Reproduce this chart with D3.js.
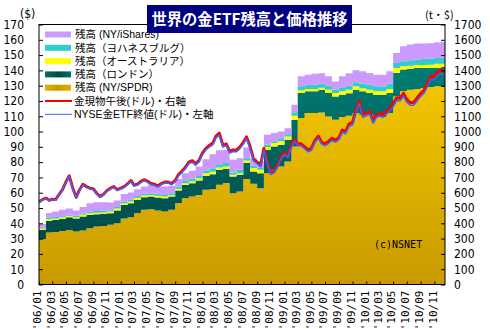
<!DOCTYPE html>
<html lang="ja">
<head>
<meta charset="utf-8">
<script src="https://cdn.jsdelivr.net/npm/d3@7"></script>
<style>
  body { margin: 0; background: #fff; }
  svg { display: block; }
</style>
</head>
<body>
<div id="chart"></div>
<script>
/********** Data **********/
// monthly ETF holdings, tonnes, Jan 2006 .. Dec 2010
var spdr = [296,340,344,350,357,346,353,368,379,383,390,401,
            431,440,466,488,492,484,477,488,532,564,575,586,
            619,623,652,663,597,608,690,658,630,728,750,772,
            804,903,1088,1121,1121,1125,1099,1077,1095,1103,1121,1110,
            1110,1099,1095,1121,1230,1263,1274,1278,1285,1291,1296,1291]
var london = [61,76,79,79,83,85,92,87,81,79,76,83,
              89,92,87,83,83,85,87,87,83,87,87,94,
              92,98,98,92,109,109,105,81,98,153,153,142,
              142,175,164,142,142,148,153,153,146,148,153,153,
              142,142,146,131,153,142,135,137,131,124,120,131]
var australia = [7,11,9,9,9,9,11,11,9,9,11,13,
                 11,11,15,11,11,11,11,9,11,11,13,15,
                 17,17,15,17,11,11,15,22,22,18,22,22,
                 22,26,18,15,15,13,22,22,22,22,22,20,
                 22,22,22,26,33,22,22,20,20,22,28,22]
var johannesburg = [4,9,9,9,7,9,9,11,11,11,9,9,
                    11,11,11,11,11,13,11,13,15,15,17,15,
                    17,22,22,22,15,22,15,15,11,15,11,15,
                    15,22,26,28,28,26,26,22,26,26,26,31,
                    33,33,33,35,33,33,35,35,39,41,37,39]
var ishares = [28,31,37,41,41,35,41,55,57,55,50,44,
               50,48,44,48,55,57,55,48,48,50,52,61,
               74,92,90,87,83,76,70,50,44,65,55,50,
               39,50,65,65,72,70,61,54,72,83,79,81,
               76,76,76,81,65,98,103,105,100,100,103,105]

// gold PM fix ($/oz, right axis), 1st and 16th of each month
var goldPM = [540,555, 565,550, 558,555, 590,620, 670,710, 630,570,
              620,655, 640,630, 625,595, 575,590, 615,630, 640,620,
              630,640, 660,680, 650,655, 675,685, 675,660, 655,645,
              660,670, 670,660, 680,720, 740,765, 800,810, 790,810,
              860,890, 910,925, 970,990, 910,920, 870,880, 880,900,
              930,965, 900,820, 800,780, 890,800, 730,740, 780,830,
              860,840, 910,950, 920,920, 900,880, 890,940, 970,930,
              920,935, 955,945, 960,1010, 1000,1050, 1060,1140, 1200,1110,
              1120,1130, 1070,1110, 1120,1110, 1130,1150, 1180,1220, 1220,1250,
              1210,1190, 1190,1220, 1250,1270, 1315,1360, 1360,1390, 1400,1390]
// NYSE gold ETF close ($, left axis), same dates
var gldClose = [53.8,55.2, 56.2,54.7, 55.5,55.2, 58.7,61.6, 66.6,70.5, 62.6,56.6,
                61.5,65.0, 63.5,62.5, 62.0,59.0, 57.0,58.5, 61.0,62.5, 63.5,61.5,
                62.5,63.5, 65.5,67.4, 64.4,64.9, 66.8,67.8, 66.8,65.3, 64.8,63.8,
                65.3,66.3, 66.3,65.3, 67.3,71.2, 73.2,75.7, 79.1,80.0, 78.1,80.0,
                85.0,88.0, 90.0,91.4, 95.9,97.8, 89.9,90.9, 86.0,86.9, 86.9,88.9,
                91.8,95.3, 88.8,80.9, 79.0,77.0, 87.8,79.0, 72.0,73.0, 77.0,81.9,
                84.9,82.9, 89.8,93.8, 90.8,90.8, 88.8,86.8, 87.8,92.8, 95.7,91.8,
                90.8,92.2, 94.2,93.2, 94.7,99.6, 98.6,103.5, 104.5,112.4, 118.3,109.4,
                110.4,111.4, 105.5,109.4, 110.3,109.4, 111.4,113.3, 116.3,120.2, 120.2,123.2,
                119.2,117.2, 117.2,120.2, 123.1,125.1, 129.5,134.0, 134.0,136.9, 137.9,136.9]

var xLabels = ["'06/01","'06/03","'06/05","'06/07","'06/09","'06/11",
               "'07/01","'07/03","'07/05","'07/07","'07/09","'07/11",
               "'08/01","'08/03","'08/05","'08/07","'08/09","'08/11",
               "'09/01","'09/03","'09/05","'09/07","'09/09","'09/11",
               "'10/01","'10/03","'10/05","'10/07","'10/09","'10/11"]
var leftTicks = [0,10,20,30,40,50,60,70,80,90,100,110,120,130,140,150,160,170]
var rightTicks = [0,100,200,300,400,500,600,700,800,900,1000,1100,1200,1300,1400,1500,1600,1700]

var legendItems = [
  {label: "残高 (NY/iShares)", kind: "box", fill: "#cc99ff"},
  {label: "残高（ヨハネスブルグ）", kind: "box", fill: "#33cccc"},
  {label: "残高（オーストラリア）", kind: "box", fill: "#ffff00"},
  {label: "残高（ロンドン）", kind: "box", fill: "url(#tealSwatch)"},
  {label: "残高 (NY/SPDR)", kind: "box", fill: "url(#goldSwatch)"},
  {label: "金現物午後(ドル)・右軸", kind: "line", stroke: "#ff0000", sw: 2},
  {label: "NYSE金ETF終値(ドル)・左軸", kind: "line", stroke: "#3366ff", sw: 1}
]

/********** Layout **********/
var W = 490, H = 329
var plot = {left: 39, right: 445, top: 24.5, bottom: 284.5}
var start = new Date(2006, 0, 1), end = new Date(2011, 0, 1)

var months = d3.timeMonth.range(start, end)
var halfMonths = []
months.forEach(function(m) {
  halfMonths.push(m)
  halfMonths.push(new Date(m.getFullYear(), m.getMonth(), 16))
})

var svg = d3.select("#chart").append("svg")
    .attr("width", W).attr("height", H)

var defs = svg.append("defs")
function vGrad(id, c1, c2) {
  var g = defs.append("linearGradient").attr("id", id)
    .attr("gradientUnits", "userSpaceOnUse")
    .attr("x1", 0).attr("x2", 0).attr("y1", plot.top).attr("y2", plot.bottom)
  g.append("stop").attr("offset", "0%").attr("stop-color", c1)
  g.append("stop").attr("offset", "100%").attr("stop-color", c2)
}
vGrad("goldFill", "#ffd400", "#c99a00")
vGrad("tealFill", "#008a80", "#003c3c")
function hGrad(id, c1, c2) {
  var g = defs.append("linearGradient").attr("id", id)
  g.append("stop").attr("offset", "0%").attr("stop-color", c1)
  g.append("stop").attr("offset", "50%").attr("stop-color", c2)
  g.append("stop").attr("offset", "100%").attr("stop-color", c1)
}
hGrad("tealSwatch", "#007070", "#004848")
hGrad("goldSwatch", "#e0b000", "#c99a00")

defs.append("clipPath").attr("id", "plotClip")
  .append("rect")
  .attr("x", plot.left).attr("y", plot.top)
  .attr("width", plot.right - plot.left).attr("height", plot.bottom - plot.top)

// x: 2-month tick spacing ~13.65px, Jan 2011 falls just past the right frame
var x = d3.scaleTime().domain([start, end]).range([plot.left, 448])
var yL = d3.scaleLinear().domain([0, 170]).range([plot.bottom, plot.top])
var yR = d3.scaleLinear().domain([0, 1700]).range([plot.bottom, plot.top])

/********** Stacked holdings **********/
var keys = ["spdr", "london", "australia", "johannesburg", "ishares"]
var colors = {spdr: "url(#goldFill)", london: "url(#tealFill)", australia: "#ffff00",
              johannesburg: "#33cccc", ishares: "#cc99ff"}
var rows = months.map(function(d, i) {
  return {date: d, spdr: spdr[i], london: london[i], australia: australia[i],
          johannesburg: johannesburg[i], ishares: ishares[i]}
})
// carry the last month to the end of the axis for the step curve
rows.push(Object.assign({}, rows[rows.length - 1], {date: end}))

var series = d3.stack().keys(keys)(rows)
var area = d3.area()
  .curve(d3.curveStepAfter)
  .x(function(d) { return x(d.data.date) })
  .y0(function(d) { return yR(d[0]) })
  .y1(function(d) { return yR(d[1]) })

var g = svg.append("g").attr("clip-path", "url(#plotClip)")
g.selectAll("path.layer").data(series).enter().append("path")
  .attr("class", "layer")
  .attr("fill", function(d) { return colors[d.key] })
  .attr("d", area)

/********** Price lines **********/
var red = halfMonths.map(function(d, i) { return {date: d, v: goldPM[i]} })
var blue = halfMonths.map(function(d, i) { return {date: d, v: gldClose[i]} })

g.append("path").datum(red)
  .attr("fill", "none").attr("stroke", "#ff0000").attr("stroke-width", 3)
  .attr("stroke-linejoin", "round")
  .attr("d", d3.line().x(function(d) { return x(d.date) }).y(function(d) { return yR(d.v) }))
g.append("path").datum(blue)
  .attr("fill", "none").attr("stroke", "#3366ff").attr("stroke-width", 1.6)
  .attr("stroke-linejoin", "round")
  .attr("d", d3.line().x(function(d) { return x(d.date) }).y(function(d) { return yL(d.v) }))

/********** Axes **********/
var numFont = "'Liberation Sans Narrow', 'DejaVu Sans Condensed', 'Liberation Sans', sans-serif"

var axL = svg.append("g").attr("transform", "translate(" + plot.left + ",0)")
  .call(d3.axisLeft(yL).tickValues(leftTicks).tickSize(-4).tickPadding(15)
    .tickFormat(d3.format("d")))
axL.select(".domain").remove()
axL.selectAll("text").style("font-family", numFont).style("font-size", "12px").attr("fill", "#000")

var axR = svg.append("g").attr("transform", "translate(" + plot.right + ",0)")
  .call(d3.axisRight(yR).tickValues(rightTicks).tickSize(-4).tickPadding(9)
    .tickFormat(d3.format("d")))
axR.select(".domain").remove()
axR.selectAll("text").style("font-family", numFont).style("font-size", "12px").attr("fill", "#000")

var tickDates = xLabels.map(function(s, i) { return d3.timeMonth.offset(start, i * 2) })
var axB = svg.append("g").attr("transform", "translate(0," + plot.bottom + ")")
  .call(d3.axisBottom(x).tickValues(tickDates).tickSize(-3)
    .tickFormat(function(d, i) { return xLabels[i] }))
axB.select(".domain").remove()
axB.selectAll("text")
  .style("font-family", "'DejaVu Sans Mono', monospace").style("font-size", "11px")
  .attr("fill", "#000")
  .attr("text-anchor", "end")
  .attr("transform", "translate(-2,6) rotate(-90)")
  .attr("x", 0).attr("y", 0).attr("dy", "0.35em")

// frame
svg.append("rect")
  .attr("x", plot.left).attr("y", plot.top)
  .attr("width", plot.right - plot.left).attr("height", plot.bottom - plot.top)
  .attr("fill", "none").attr("stroke", "#000").attr("stroke-width", 1)

svg.append("text").attr("x", 20).attr("y", 18)
  .style("font-family", numFont).style("font-size", "12px").text("($)")
svg.append("text").attr("x", 425).attr("y", 19)
  .style("font-family", "'Noto Sans CJK JP', sans-serif").style("font-size", "11px").text("(t・$)")

/********** Legend **********/
var lg = svg.append("g").attr("transform", "translate(45,34.5)")
var item = lg.selectAll("g").data(legendItems).enter().append("g")
  .attr("transform", function(d, i) { return "translate(0," + (i * 13.3) + ")" })
item.filter(function(d) { return d.kind == "box" }).append("rect")
  .attr("x", 0).attr("y", -3).attr("width", 26).attr("height", 6)
  .attr("fill", function(d) { return d.fill })
item.filter(function(d) { return d.kind == "line" }).append("line")
  .attr("x1", 0).attr("x2", 27).attr("y1", 0).attr("y2", 0)
  .attr("stroke", function(d) { return d.stroke })
  .attr("stroke-width", function(d) { return d.sw })
item.append("text")
  .attr("x", function(d) { return d.kind == "box" ? 30 : 29 })
  .attr("dy", "0.36em")
  .style("font-family", "'Liberation Sans', 'Noto Sans CJK JP', sans-serif").style("font-size", "10.5px")
  .attr("fill", "#000")
  .text(function(d) { return d.label })

/********** Title & credit **********/
svg.append("rect").attr("x", 147).attr("y", 5).attr("width", 205).attr("height", 28)
  .attr("fill", "#000080")
svg.append("text").attr("x", 249.5).attr("y", 19).attr("dy", "0.36em")
  .attr("text-anchor", "middle").attr("fill", "#fff")
  .style("font-family", "'Noto Sans CJK JP', sans-serif").style("font-size", "16px")
  .style("font-weight", "bold")
  .attr("textLength", 196).attr("lengthAdjust", "spacingAndGlyphs")
  .text("世界の金ETF残高と価格推移")

svg.append("text").attr("x", 374).attr("y", 248)
  .style("font-family", "'DejaVu Sans Mono', monospace").style("font-size", "10px")
  .text("(c)NSNET")
</script>
</body>
</html>
